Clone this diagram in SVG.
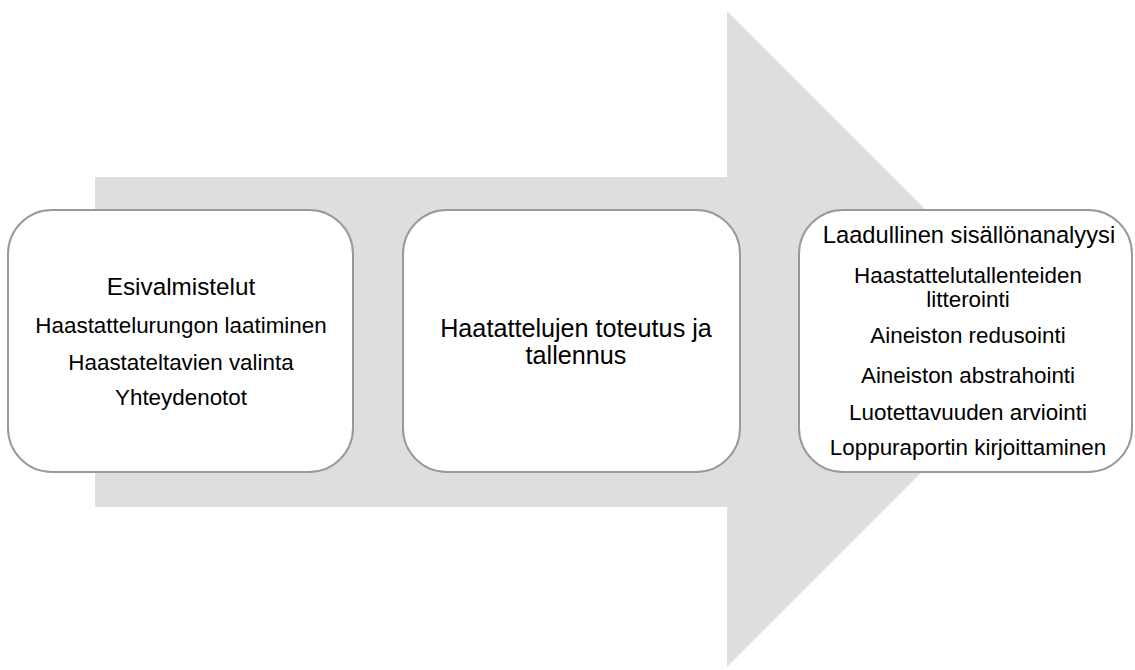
<svg xmlns="http://www.w3.org/2000/svg" width="1135" height="670" viewBox="0 0 1135 670">
<style>
.box{fill:#fff;stroke:#999;stroke-width:2}
text{font-family:"Liberation Sans",Arial,sans-serif;fill:#000;text-anchor:middle}
.t{font-size:24.3px}
.s{font-size:22.4px}
</style>
<rect width="1135" height="670" fill="#fff"/>
<g id="arrow">
<polygon points="95,177 727,177 727,11 1055,339 727,667 727,507 95,507" fill="#dedede"/>
</g>
<g id="node1">
<rect class="box" x="8" y="210" width="345" height="262" rx="44"/>
<text class="t" x="181" y="295">Esivalmistelut</text>
<text class="s" x="181" y="333">Haastattelurungon laatiminen</text>
<text class="s" x="181" y="370">Haastateltavien valinta</text>
<text class="s" x="181" y="405">Yhteydenotot</text>
</g>
<g id="node2">
<rect class="box" x="403" y="210" width="337" height="262" rx="44"/>
<text class="t" x="576" y="337" style="font-size:25.2px">Haatattelujen toteutus ja</text>
<text class="t" x="576" y="364" style="font-size:25.2px">tallennus</text>
</g>
<g id="node3">
<rect class="box" x="799" y="210" width="333" height="262" rx="44"/>
<text class="t" x="969" y="243" style="font-size:23.7px">Laadullinen sisällönanalyysi</text>
<text class="s" x="968" y="283">Haastattelutallenteiden</text>
<text class="s" x="968" y="307">litterointi</text>
<text class="s" x="968" y="343">Aineiston redusointi</text>
<text class="s" x="968" y="383">Aineiston abstrahointi</text>
<text class="s" x="968" y="420">Luotettavuuden arviointi</text>
<text class="s" x="968" y="455">Loppuraportin kirjoittaminen</text>
</g>
<g id="connectors"></g>
</svg>
